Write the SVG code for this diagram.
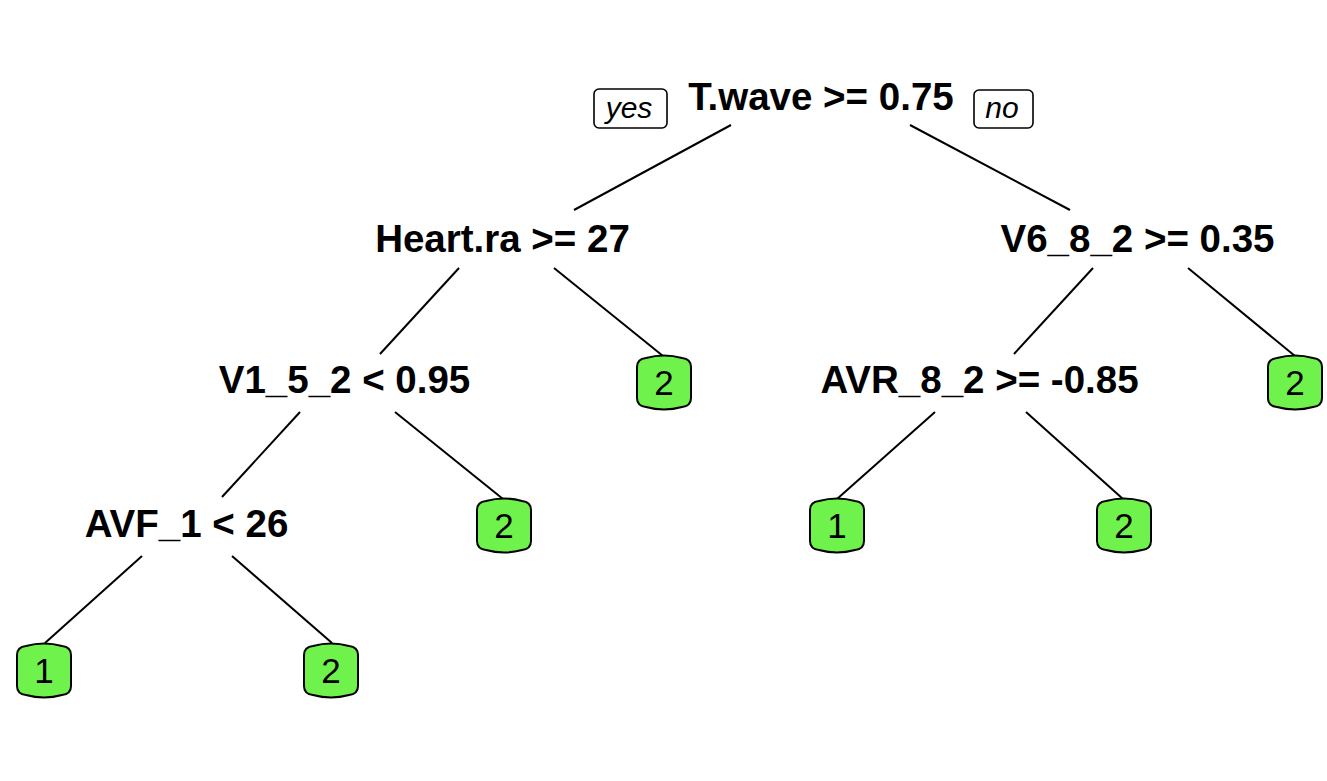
<svg xmlns="http://www.w3.org/2000/svg" width="1327" height="781" viewBox="0 0 1327 781">
<style>
.split{font-family:"Liberation Sans",Arial,sans-serif;font-weight:bold;font-size:38.5px;text-anchor:middle;fill:#000}
.leaf path{fill:#6FF24C;stroke:#000;stroke-width:2}
.leaf text{font-family:"Liberation Sans",Arial,sans-serif;font-size:35px;text-anchor:middle;fill:#000}
.lab rect{fill:#fff;stroke:#000;stroke-width:1.6}
.lab text{font-family:"Liberation Sans",Arial,sans-serif;font-style:italic;font-size:30px;text-anchor:middle;fill:#000}
#connectors line{stroke:#000;stroke-width:2}
</style>
<rect width="1327" height="781" fill="#fff"/>
<g id="connectors">
<line x1="731" y1="125" x2="574" y2="210"/>
<line x1="910" y1="125" x2="1070" y2="210"/>
<line x1="459" y1="268" x2="380" y2="354"/>
<line x1="554" y1="268" x2="663" y2="356"/>
<line x1="1093" y1="268" x2="1014" y2="354"/>
<line x1="1188" y1="268" x2="1295" y2="356"/>
<line x1="300" y1="412" x2="222" y2="497"/>
<line x1="395" y1="412" x2="503" y2="499"/>
<line x1="935" y1="412" x2="837" y2="499"/>
<line x1="1026" y1="412" x2="1123" y2="499"/>
<line x1="142" y1="556" x2="45" y2="643"/>
<line x1="232" y1="556" x2="332" y2="643"/>
</g>
<g id="label-yes" class="lab"><rect x="594" y="89" width="73" height="39" rx="5"/><text x="629" y="118">yes</text></g>
<g id="label-no" class="lab"><rect x="974" y="90" width="59" height="38" rx="5"/><text x="1002" y="118">no</text></g>
<g id="n1"><text class="split" x="821" y="110">T.wave &gt;= 0.75</text></g>
<g id="n2"><text class="split" x="502.5" y="252">Heart.ra &gt;= 27</text></g>
<g id="n3"><text class="split" x="1137.5" y="252">V6_8_2 &gt;= 0.35</text></g>
<g id="n4"><text class="split" x="344.5" y="393">V1_5_2 &lt; 0.95</text></g>
<g id="n6"><text class="split" x="979.5" y="393">AVR_8_2 &gt;= -0.85</text></g>
<g id="n8"><text class="split" x="186.5" y="537">AVF_1 &lt; 26</text></g>
<g id="leaf16" class="leaf" transform="translate(17,643)"><path d="M0,12 Q0,4 9,3 Q27,-2 45,3 Q54,4 54,12 L54,43 Q54,51 45,52 Q27,57 9,52 Q0,51 0,43 Z"/><text x="27" y="40">1</text></g>
<g id="leaf17" class="leaf" transform="translate(304,643)"><path d="M0,12 Q0,4 9,3 Q27,-2 45,3 Q54,4 54,12 L54,43 Q54,51 45,52 Q27,57 9,52 Q0,51 0,43 Z"/><text x="27" y="40">2</text></g>
<g id="leaf9" class="leaf" transform="translate(477,498)"><path d="M0,12 Q0,4 9,3 Q27,-2 45,3 Q54,4 54,12 L54,43 Q54,51 45,52 Q27,57 9,52 Q0,51 0,43 Z"/><text x="27" y="40">2</text></g>
<g id="leaf5" class="leaf" transform="translate(637,355)"><path d="M0,12 Q0,4 9,3 Q27,-2 45,3 Q54,4 54,12 L54,43 Q54,51 45,52 Q27,57 9,52 Q0,51 0,43 Z"/><text x="27" y="40">2</text></g>
<g id="leaf12" class="leaf" transform="translate(810,498)"><path d="M0,12 Q0,4 9,3 Q27,-2 45,3 Q54,4 54,12 L54,43 Q54,51 45,52 Q27,57 9,52 Q0,51 0,43 Z"/><text x="27" y="40">1</text></g>
<g id="leaf13" class="leaf" transform="translate(1097,498)"><path d="M0,12 Q0,4 9,3 Q27,-2 45,3 Q54,4 54,12 L54,43 Q54,51 45,52 Q27,57 9,52 Q0,51 0,43 Z"/><text x="27" y="40">2</text></g>
<g id="leaf7" class="leaf" transform="translate(1268,355)"><path d="M0,12 Q0,4 9,3 Q27,-2 45,3 Q54,4 54,12 L54,43 Q54,51 45,52 Q27,57 9,52 Q0,51 0,43 Z"/><text x="27" y="40">2</text></g>
</svg>
